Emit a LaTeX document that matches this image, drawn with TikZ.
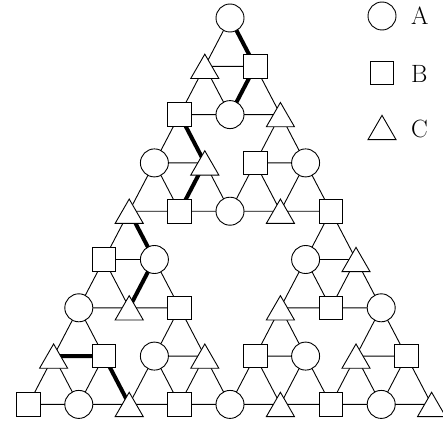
\documentclass[tikz,border=0pt]{standalone}
\usetikzlibrary{shapes.geometric}
\tikzset{
  edge/.style={line width=0.9pt},
  pathedge/.style={line width=4pt},
  vbase/.style={draw, fill=white, line width=0.9pt, inner sep=0pt, outer sep=0pt},
  % v0 = A (circle), v1 = C (triangle), v2 = B (square)
  v0/.style={vbase, circle, minimum size=28pt},
  v1/.style={vbase, regular polygon, regular polygon sides=3, minimum size=32.4pt, yshift=-4.05pt},
  v2/.style={vbase, rectangle, minimum size=23.5pt},
  key/.style={anchor=west, inner sep=0pt, font=\fontsize{25}{30}\selectfont},
}
\begin{document}
\begin{tikzpicture}[x=1pt,y=1pt]
\useasboundingbox (0,0) rectangle (443,424);
% lattice points of the level-3 Sierpinski gasket
\foreach \r/\ks in {0/{0},1/{0,1},2/{0,1,2},3/{0,1,2,3},4/{0,1,2,3,4},5/{0,1,4,5},6/{0,1,2,4,5,6},7/{0,...,7},8/{0,...,8}}{
  \foreach \k in \ks {
    \coordinate (p-\r-\k) at ({230+(\k-\r/2)*50.4},{406-\r*48.3});
  }
}
% unit triangles (top corner at row r, index k)
\foreach \r/\ks in {0/{0},1/{0,1},2/{0,2},3/{0,1,2,3},4/{0,4},5/{0,1,4,5},6/{0,2,4,6},7/{0,...,7}}{
  \foreach \k in \ks {
    \pgfmathtruncatemacro\rr{\r+1}
    \pgfmathtruncatemacro\kk{\k+1}
    \draw[edge] (p-\r-\k) -- (p-\rr-\k) -- (p-\rr-\kk) -- cycle;
  }
}
% highlighted edges
\draw[pathedge] (p-0-0) -- (p-1-1) -- (p-2-1);
\draw[pathedge] (p-2-0) -- (p-3-1) -- (p-4-1);
\draw[pathedge] (p-4-0) -- (p-5-1) -- (p-6-1);
\draw[pathedge] (p-7-0) -- (p-7-1) -- (p-8-2);
% vertices
\foreach \r/\ks in {0/{0},1/{0,1},2/{0,1,2},3/{0,1,2,3},4/{0,1,2,3,4},5/{0,1,4,5},6/{0,1,2,4,5,6},7/{0,...,7},8/{0,...,8}}{
  \foreach \k in \ks {
    \pgfmathtruncatemacro\t{mod(\r+\k,3)}
    \node[v\t] (v-\r-\k) at (p-\r-\k) {};
  }
}
% legend
\node[v0] (keyA) at (382,408) {};
\node[v2] (keyB) at (382,351) {};
\node[v1] (keyC) at (382,296.5) {};
\node[key] (labA) at (411,408) {A};
\node[key] (labB) at (411,350) {B};
\node[key] (labC) at (411,295) {C};
\end{tikzpicture}
\end{document}
